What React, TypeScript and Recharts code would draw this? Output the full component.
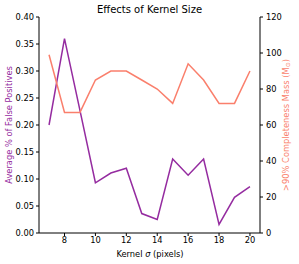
import { ComposedChart, Line, XAxis, YAxis } from "recharts";

const kernelSigma = [7, 8, 9, 10, 11, 12, 13, 14, 15, 16, 17, 18, 19, 20];
const falsePositives = [0.2, 0.36, 0.227, 0.093, 0.111, 0.12, 0.036, 0.025, 0.137, 0.107, 0.137, 0.016, 0.066, 0.086];
const completenessMass = [99, 67, 67, 85, 90, 90, 85, 80, 72, 94, 85, 72, 72, 90];

const xTicks = [8, 10, 12, 14, 16, 18, 20];
const leftTicks = [0, 0.05, 0.1, 0.15, 0.2, 0.25, 0.3, 0.35, 0.4];
const rightTicks = [0, 20, 40, 60, 80, 100, 120];

const PURPLE = "#952ca0";
const SALMON = "#fa7f6c";
const FONT = "DejaVu Sans, sans-serif";

const rows = kernelSigma.map((k, i) => ({
  k,
  fp: falsePositives[i],
  mass: completenessMass[i],
}));

const tick = { fontSize: 8.3, fill: "#000", fontFamily: FONT };

export default function App() {
  return (
    <div style={{ position: "absolute", left: 0, top: 0, width: 299, height: 264, background: "#fff" }}>
      <ComposedChart width={299} height={264} data={rows} margin={{ top: 17, right: 0, bottom: 0, left: 0 }}>
        <XAxis
          dataKey="k"
          type="number"
          domain={[6.35, 20.65]}
          ticks={xTicks}
          allowDataOverflow
          height={31}
          tickSize={3}
          tickMargin={1}
          tick={tick}
          stroke="#000"
          tickLine={{ stroke: "#000" }}
        />
        <XAxis
          xAxisId="top"
          dataKey="k"
          type="number"
          orientation="top"
          domain={[6.35, 20.65]}
          height={0}
          tick={false}
          tickLine={false}
          stroke="#000"
        />
        <YAxis
          yAxisId="left"
          domain={[0, 0.4]}
          ticks={leftTicks}
          width={39}
          tickSize={3}
          tickMargin={2}
          tickFormatter={(v: number) => v.toFixed(2)}
          tick={tick}
          stroke="#000"
          tickLine={{ stroke: "#000" }}
        />
        <YAxis
          yAxisId="right"
          orientation="right"
          domain={[0, 120]}
          ticks={rightTicks}
          width={39}
          tickSize={3}
          tickMargin={3}
          tick={tick}
          stroke="#000"
          tickLine={{ stroke: "#000" }}
        />
        <Line
          yAxisId="left"
          dataKey="fp"
          type="linear"
          stroke={PURPLE}
          strokeWidth={1.5}
          dot={false}
          isAnimationActive={false}
        />
        <Line
          yAxisId="right"
          dataKey="mass"
          type="linear"
          stroke={SALMON}
          strokeWidth={1.5}
          dot={false}
          isAnimationActive={false}
        />
        <text x={149.5} y={10} textAnchor="middle" dominantBaseline="middle" fontSize={10} fontFamily={FONT} fill="#000">
          Effects of Kernel Size
        </text>
        <text x={150} y={254} textAnchor="middle" dominantBaseline="middle" fontSize={8.3} fontFamily={FONT} fill="#000">
          Kernel <tspan fontStyle="italic">σ</tspan> (pixels)
        </text>
        <text
          x={9}
          y={125}
          transform="rotate(-90 9 125)"
          textAnchor="middle"
          dominantBaseline="middle"
          fontSize={8.3}
          fontFamily={FONT}
          fill={PURPLE}
        >
          Average % of False Positives
        </text>
        <text
          x={286}
          y={125}
          transform="rotate(-90 286 125)"
          textAnchor="middle"
          dominantBaseline="middle"
          fontSize={8.3}
          fontFamily={FONT}
          fill={SALMON}
        >
          {">90% Completeness Mass (M"}
          <tspan fontSize={6} dy={1.5}>⊙</tspan>
          <tspan dy={-1.5}>)</tspan>
        </text>
      </ComposedChart>
    </div>
  );
}
